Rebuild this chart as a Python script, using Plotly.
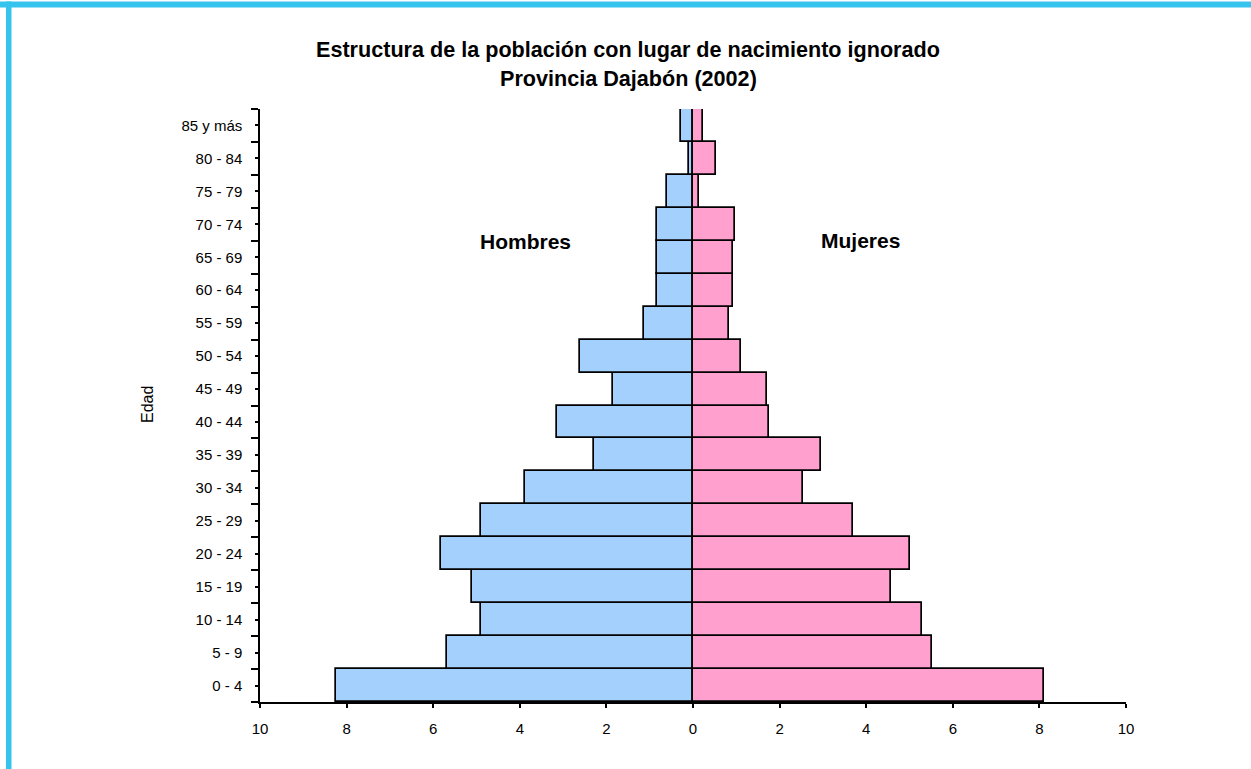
import plotly.graph_objects as go

age_groups = ["0 - 4", "5 - 9", "10 - 14", "15 - 19", "20 - 24", "25 - 29", "30 - 34",
              "35 - 39", "40 - 44", "45 - 49", "50 - 54", "55 - 59", "60 - 64",
              "65 - 69", "70 - 74", "75 - 79", "80 - 84", "85 y más"]
hombres = [8.24, 5.68, 4.90, 5.10, 5.82, 4.90, 3.88, 2.29, 3.14, 1.85, 2.61, 1.13,
           0.83, 0.83, 0.83, 0.60, 0.10, 0.28]
mujeres = [8.10, 5.52, 5.29, 4.57, 5.01, 3.70, 2.54, 2.96, 1.76, 1.71, 1.10, 0.83,
           0.92, 0.92, 0.97, 0.14, 0.53, 0.23]
x_ticks = [-10, -8, -6, -4, -2, 0, 2, 4, 6, 8, 10]
x_tick_labels = [str(abs(v)) for v in x_ticks]

W, H = 1251, 769
L, R, T, B = 260, 1126, 109, 702  # plot area in pixels

def px(x):
    return (x - L) / (R - L)

def py(y):
    return (B - y) / (B - T)

pos = list(range(len(age_groups)))

fig = go.Figure()
fig.add_trace(go.Bar(
    y=pos, x=[-v for v in hombres], orientation="h", width=1,
    marker=dict(color="#A4D0FE", line=dict(color="black", width=1.7)),
    name="Hombres", hoverinfo="skip"))
fig.add_trace(go.Bar(
    y=pos, x=mujeres, orientation="h", width=1,
    marker=dict(color="#FFA0CF", line=dict(color="black", width=1.7)),
    name="Mujeres", hoverinfo="skip"))

font_fam = "Liberation Sans, Arial, sans-serif"

fig.update_layout(
    width=W, height=H,
    margin=dict(l=L, r=W - R, t=T, b=H - B, pad=0),
    paper_bgcolor="white", plot_bgcolor="white",
    barmode="overlay", bargap=0, showlegend=False,
    font=dict(family=font_fam, color="black", size=15),
    xaxis=dict(range=[-10, 10], tickvals=x_ticks, ticktext=x_tick_labels,
               showgrid=False, zeroline=False, showline=True, linecolor="black",
               linewidth=1.5, ticks="outside", ticklen=4, tickcolor="black",
               tickwidth=1.5, ticklabelstandoff=8, tickfont=dict(size=15),
               fixedrange=True),
    yaxis=dict(range=[-0.5, len(age_groups) - 0.5], tickvals=pos, ticktext=age_groups,
               showgrid=False, zeroline=False, showline=True, linecolor="black",
               linewidth=1.5, ticks="outside", ticklen=3, tickcolor="black",
               tickwidth=1.5, ticklabelstandoff=10, tickfont=dict(size=15),
               minor=dict(tickvals=[p - 0.5 for p in pos] + [len(age_groups) - 0.5],
                          ticks="outside", ticklen=7, tickcolor="black", tickwidth=1.5,
                          showgrid=False),
               fixedrange=True),
    annotations=[
        dict(text="<b>Estructura de la población con lugar de nacimiento ignorado</b>",
             xref="paper", yref="paper", x=px(628), y=py(49), showarrow=False,
             xanchor="center", yanchor="middle", font=dict(size=21.6)),
        dict(text="<b>Provincia Dajabón (2002)</b>",
             xref="paper", yref="paper", x=px(628), y=py(78), showarrow=False,
             xanchor="center", yanchor="middle", font=dict(size=21.6)),
        dict(text="<b>Hombres</b>", x=-3.88, y=13.48, xref="x", yref="y",
             showarrow=False, font=dict(size=21)),
        dict(text="<b>Mujeres</b>", x=3.86, y=13.5, xref="x", yref="y",
             showarrow=False, font=dict(size=21)),
        dict(text="Edad", xref="paper", yref="paper", x=px(147), y=py(405),
             textangle=-90, showarrow=False, xanchor="center", yanchor="middle",
             font=dict(size=16)),
    ],
    shapes=[
        dict(type="rect", xref="paper", yref="paper", x0=px(-5), x1=px(W + 5),
             y0=py(7.5), y1=py(1.5), fillcolor="#36C3EE", line=dict(width=0), layer="above"),
        dict(type="rect", xref="paper", yref="paper", x0=px(6), x1=px(11.5),
             y0=py(H + 5), y1=py(1.5), fillcolor="#36C3EE", line=dict(width=0), layer="above"),
    ],
)

fig.write_html("out.html", config={"displayModeBar": False},
               post_script="document.body.style.margin='0px';document.body.style.overflow='hidden';")
